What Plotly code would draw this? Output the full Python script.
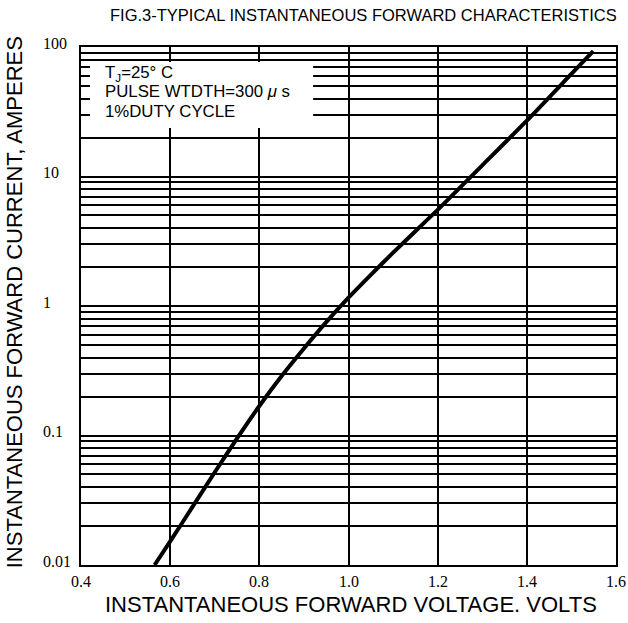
import math
import plotly.graph_objects as go

# Data
voltage = [0.565, 0.6, 0.65, 0.7, 0.75, 0.8, 0.85, 0.9, 0.95, 1.0, 1.05, 1.1, 1.15, 1.2, 1.3, 1.4, 1.5, 1.549]
current = [0.01, 0.0152, 0.0281, 0.052, 0.095, 0.169, 0.288, 0.47, 0.75, 1.16, 1.74, 2.58, 3.78, 5.53, 12.2, 27, 62, 93]

x_ticks = [0.4, 0.6, 0.8, 1.0, 1.2, 1.4, 1.6]
x_tick_labels = ["0.4", "0.6", "0.8", "1.0", "1.2", "1.4", "1.6"]
y_ticks = [0.01, 0.1, 1, 10, 100]
y_tick_labels = ["0.01", "0.1", "1", "10", "100"]
y_grid = [m * 10 ** e for e in range(-2, 2) for m in range(1, 10)] + [100]

legend_lines = ["T<sub>J</sub>=25° C", "PULSE WTDTH=300 <i>μ</i> s", "1%DUTY CYCLE"]

W, H = 628, 623
L, R, T, B = 81, 10, 47, 58
pw, ph = W - L - R, H - T - B


def px(xs):
    return (xs - L) / pw


def py(ys):
    return 1 - (ys - T) / ph


fig = go.Figure()
fig.add_trace(go.Scatter(x=voltage, y=current, mode="lines",
                         line=dict(color="black", width=4, shape="spline", smoothing=0.6),
                         hoverinfo="skip", showlegend=False))

fig.update_layout(
    width=W, height=H,
    margin=dict(l=L, r=R, t=T, b=B),
    paper_bgcolor="white", plot_bgcolor="white",
    showlegend=False,
    xaxis=dict(range=[0.4, 1.6], tickvals=x_ticks[1:-1], showticklabels=False,
               showgrid=True, gridcolor="black", gridwidth=1.6, zeroline=False,
               showline=True, linecolor="black", linewidth=2, mirror=True, ticks=""),
    yaxis=dict(type="log", range=[-2, 2], tickvals=y_grid, showticklabels=False,
               showgrid=True, gridcolor="black", gridwidth=1.6, zeroline=False,
               showline=True, linecolor="black", linewidth=2, mirror=True, ticks=""),
)

# White legend box covering the grid
fig.add_shape(type="rect", xref="paper", yref="paper",
              x0=px(90), x1=px(314), y0=py(128), y1=py(62),
              fillcolor="white", line=dict(width=0), layer="above")

ann = []
legend_y = [73, 91, 112]
for txt, yy in zip(legend_lines, legend_y):
    ann.append(dict(text=txt, xref="paper", yref="paper", x=px(103), y=py(yy),
                    xanchor="left", yanchor="middle", showarrow=False,
                    font=dict(family="Liberation Sans", size=16.8, color="black")))

for v, lab in zip(x_ticks, x_tick_labels):
    ann.append(dict(text=lab, x=v, xref="x", yref="paper", y=py(581),
                    xanchor="center", yanchor="middle", showarrow=False,
                    font=dict(family="Liberation Serif", size=16, color="black")))

for v, lab in zip(y_ticks, y_tick_labels):
    ann.append(dict(text=lab, xref="paper", x=px(41), yref="y", y=math.log10(v),
                    xanchor="left", yanchor="middle", yshift=4, showarrow=False,
                    font=dict(family="Liberation Serif", size=16, color="black")))

ann.append(dict(text="FIG.3-TYPICAL INSTANTANEOUS FORWARD CHARACTERISTICS",
                xref="paper", yref="paper", x=px(621), y=py(15),
                xanchor="right", yanchor="middle", showarrow=False,
                font=dict(family="Liberation Sans", size=16.5, color="black")))
ann.append(dict(text="INSTANTANEOUS FORWARD VOLTAGE. VOLTS",
                xref="paper", yref="paper", x=px(352), y=py(604),
                xanchor="center", yanchor="middle", showarrow=False,
                font=dict(family="Liberation Sans", size=22, color="black")))
ann.append(dict(text="INSTANTANEOUS FORWARD CURRENT, AMPERES",
                xref="paper", yref="paper", x=px(14), y=py(302),
                xanchor="center", yanchor="middle", textangle=-90, showarrow=False,
                font=dict(family="Liberation Sans", size=22, color="black")))

fig.update_layout(annotations=ann)
fig.write_html("out.html", config={"displayModeBar": False},
               post_script="document.body.style.margin='0';document.body.style.overflow='hidden';")
